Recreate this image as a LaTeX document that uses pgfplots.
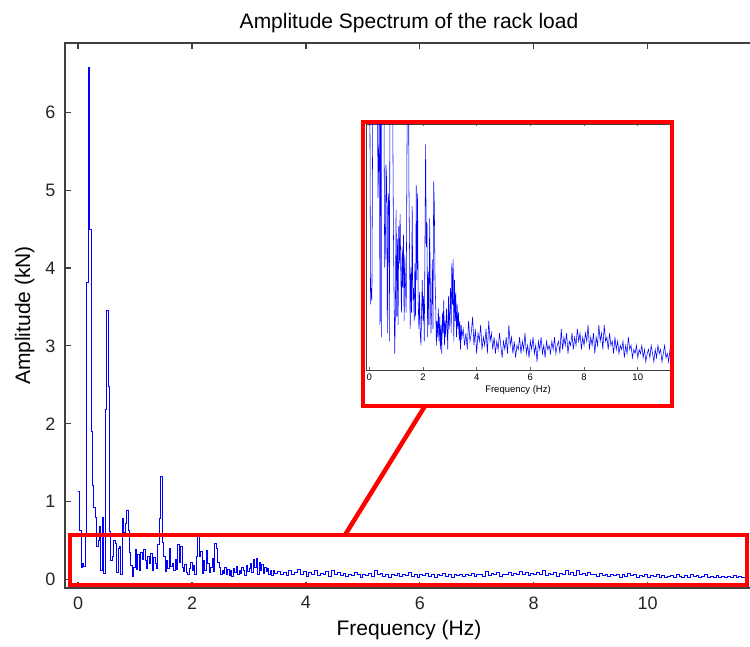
\documentclass[border=0pt]{standalone}
\usepackage{fontspec}
\setmainfont{Liberation Sans}
\usepackage{pgfplots}
\pgfplotsset{compat=1.18}
\usepackage{pgfplotstable}
\pgfplotstableread{
f a
0.000 1.13
0.025 0.63
0.050 0.16
0.075 0.20
0.100 0.17
0.125 0.55
0.150 3.81
0.175 6.58
0.200 4.50
0.225 1.90
0.250 1.21
0.275 0.93
0.300 0.80
0.325 0.42
0.350 0.50
0.375 0.68
0.400 0.11
0.425 0.80
0.450 0.08
0.475 2.19
0.500 3.46
0.525 2.48
0.550 0.62
0.575 0.25
0.600 0.29
0.625 0.50
0.650 0.46
0.675 0.09
0.700 0.40
0.725 0.43
0.750 0.07
0.775 0.79
0.800 0.60
0.825 0.72
0.850 0.89
0.875 0.63
0.900 0.35
0.925 0.18
0.950 0.04
0.975 0.15
1.000 0.39
1.025 0.13
1.050 0.32
1.075 0.11
1.100 0.35
1.125 0.26
1.150 0.38
1.175 0.24
1.200 0.14
1.225 0.30
1.250 0.20
1.275 0.33
1.300 0.12
1.325 0.28
1.350 0.21
1.375 0.14
1.400 0.45
1.425 0.79
1.450 1.32
1.475 0.47
1.500 0.30
1.525 0.10
1.550 0.25
1.575 0.14
1.600 0.40
1.625 0.17
1.650 0.20
1.675 0.12
1.700 0.26
1.725 0.13
1.750 0.45
1.775 0.22
1.800 0.43
1.825 0.16
1.850 0.10
1.875 0.19
1.900 0.09
1.925 0.06
1.950 0.14
1.975 0.22
2.000 0.12
2.025 0.18
2.050 0.07
2.075 0.30
2.100 0.55
2.125 0.30
2.150 0.36
2.175 0.08
2.200 0.24
2.225 0.11
2.250 0.37
2.275 0.20
2.300 0.09
2.325 0.15
2.350 0.27
2.375 0.10
2.400 0.46
2.425 0.40
2.450 0.22
2.475 0.16
2.500 0.06
2.525 0.12
2.550 0.08
2.575 0.15
2.600 0.07
2.625 0.13
2.650 0.05
2.675 0.11
2.700 0.04
2.725 0.14
2.750 0.09
2.775 0.17
2.800 0.06
2.825 0.12
2.850 0.08
2.875 0.15
2.900 0.11
2.925 0.05
2.950 0.18
2.975 0.10
3.000 0.14
3.025 0.20
3.050 0.09
3.075 0.26
3.100 0.16
3.125 0.27
3.150 0.07
3.175 0.22
3.200 0.12
3.225 0.19
3.250 0.08
3.275 0.16
3.300 0.10
3.325 0.14
3.350 0.07
3.375 0.12
3.400 0.05
3.425 0.11
3.450 0.08
3.50 0.10
3.55 0.06
3.60 0.09
3.65 0.05
3.70 0.12
3.75 0.07
3.80 0.09
3.85 0.13
3.90 0.06
3.95 0.10
4.00 0.04
4.05 0.09
4.10 0.07
4.15 0.11
4.20 0.05
4.25 0.08
4.30 0.06
4.35 0.10
4.40 0.04
4.45 0.12
4.50 0.07
4.55 0.09
4.60 0.05
4.65 0.08
4.70 0.04
4.75 0.07
4.80 0.05
4.85 0.09
4.90 0.06
4.95 0.03
5.00 0.07
5.05 0.05
5.10 0.08
5.15 0.04
5.20 0.11
5.25 0.06
5.30 0.08
5.35 0.04
5.40 0.07
5.45 0.03
5.50 0.06
5.55 0.05
5.60 0.08
5.65 0.04
5.70 0.07
5.75 0.05
5.80 0.09
5.85 0.04
5.90 0.06
5.95 0.03
6.00 0.07
6.05 0.05
6.10 0.08
6.15 0.04
6.20 0.06
6.25 0.02
6.30 0.07
6.35 0.05
6.40 0.08
6.45 0.04
6.50 0.06
6.55 0.03
6.60 0.07
6.65 0.05
6.70 0.06
6.75 0.04
6.80 0.07
6.85 0.05
6.90 0.08
6.95 0.04
7.00 0.06
7.05 0.07
7.10 0.04
7.15 0.10
7.20 0.05
7.25 0.08
7.30 0.06
7.35 0.09
7.40 0.04
7.45 0.07
7.50 0.06
7.55 0.09
7.60 0.05
7.65 0.08
7.70 0.06
7.75 0.10
7.80 0.07
7.85 0.09
7.90 0.05
7.95 0.08
8.00 0.06
8.05 0.09
8.10 0.07
8.15 0.11
8.20 0.05
8.25 0.08
8.30 0.06
8.35 0.09
8.40 0.04
8.45 0.08
8.50 0.06
8.55 0.11
8.60 0.07
8.65 0.09
8.70 0.05
8.75 0.11
8.80 0.07
8.85 0.08
8.90 0.05
8.95 0.09
9.00 0.06
9.05 0.07
9.10 0.04
9.15 0.08
9.20 0.05
9.25 0.07
9.30 0.04
9.35 0.06
9.40 0.05
9.45 0.07
9.50 0.03
9.55 0.06
9.60 0.04
9.65 0.08
9.70 0.05
9.75 0.06
9.80 0.03
9.85 0.05
9.90 0.04
9.95 0.06
10.00 0.03
10.05 0.05
10.10 0.04
10.15 0.06
10.20 0.03
10.25 0.05
10.30 0.02
10.35 0.04
10.40 0.05
10.45 0.03
10.50 0.06
10.55 0.04
10.60 0.02
10.65 0.05
10.70 0.03
10.75 0.06
10.80 0.04
10.85 0.05
10.90 0.02
10.95 0.04
11.00 0.06
11.05 0.03
11.10 0.04
11.15 0.02
11.20 0.05
11.25 0.03
11.30 0.04
11.35 0.02
11.40 0.04
11.45 0.03
11.50 0.05
11.55 0.02
11.60 0.04
11.65 0.03
11.70 0.02
}\spectrum
\definecolor{axgray}{gray}{0.25}
\begin{document}
\begin{tikzpicture}
\begin{axis}[
  at={(0pt,0pt)}, anchor=south west,
  scale only axis, width=688pt, height=545pt,
  xmin=-0.23, xmax=11.85, ymin=-0.11, ymax=6.89,
  xtick={0,2,4,6,8,10}, ytick={0,1,2,3,4,5,6},
  xtick pos=both, ytick pos=left,
  tick align=inside, major tick length=6pt,
  axis line style={line width=1.4pt, draw=axgray},
  every tick/.style={line width=1.2pt, draw=axgray},
  /pgf/number format/assume math mode=true,
  tick label style={font=\fontsize{18}{21}\selectfont, text=black!85},
  xticklabel style={yshift=-5pt},
  yticklabel style={xshift=-6pt},
  xlabel={Frequency (Hz)}, ylabel={Amplitude (kN)},
  label style={font=\fontsize{21}{24}\selectfont},
  xlabel style={yshift=-4pt},
  ylabel style={yshift=4pt},
  title={Amplitude Spectrum of the rack load},
  title style={font=\fontsize{21}{24}\selectfont, yshift=1pt},
  clip=true,
]
\addplot[color=blue, line width=0.8pt, const plot] table[x=f,y=a] {\spectrum};
\end{axis}
\begin{axis}[
  at={(301pt,218pt)}, anchor=south west,
  scale only axis, width=304pt, height=246pt,
  xmin=-0.12, xmax=11.2, ymin=0, ymax=0.6,
  xtick={0,2,4,6,8,10}, ytick=\empty,
  tick align=inside, major tick length=2.5pt,
  axis line style={line width=0.8pt, draw=axgray},
  every tick/.style={line width=0.6pt, draw=black!60},
  /pgf/number format/assume math mode=true,
  tick label style={font=\fontsize{9.5}{11}\selectfont},
  xlabel={Frequency (Hz)},
  label style={font=\fontsize{9.5}{11}\selectfont},
  xlabel style={yshift=2pt},
  clip=true,
]
\addplot[color=blue, line width=0.55pt] table[x=f,y=a] {\spectrum};
\end{axis}
\draw[red, line width=4pt] (298pt,182pt) rectangle (607pt,466pt);
\draw[red, line width=4.5pt] (5pt,3pt) rectangle (682pt,53pt);
\draw[red, line width=4.5pt] (280pt,53pt) -- (360pt,182pt);
\pgfresetboundingbox
\useasboundingbox (-65pt,-59pt) rectangle (685pt,588pt);
\end{tikzpicture}
\end{document}
